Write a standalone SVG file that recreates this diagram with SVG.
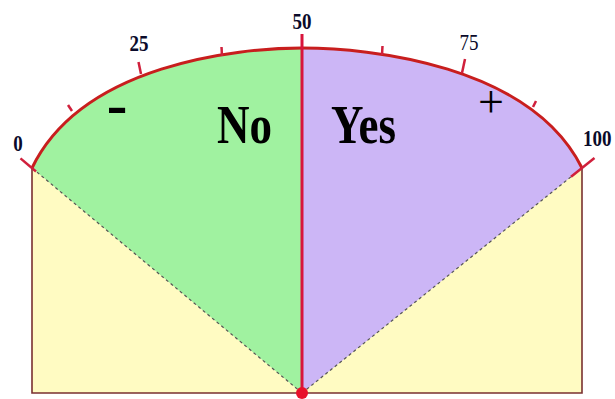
<svg xmlns="http://www.w3.org/2000/svg" width="615" height="399" viewBox="0 0 615 399">
<style>
.lbl{font-family:"Liberation Serif","Times New Roman",serif;font-weight:bold;fill:#0a0a2a}
.big{font-family:"Liberation Serif","Times New Roman",serif;font-weight:bold;fill:#000}
.thin{font-weight:normal}
.tick{stroke:#d0203c;stroke-width:2.5;fill:none;stroke-linecap:butt}
.dash{stroke:#555;stroke-width:1.2;stroke-dasharray:3 3;fill:none}
</style>
<rect width="615" height="399" fill="#ffffff"/>
<g id="frame">
<rect x="32" y="168" width="550" height="225" fill="#fffbc2"/>
<path d="M32,168 L32,393 L582,393 L582,168" fill="none" stroke="#7a3030" stroke-width="1.6"/>
</g>
<g id="no-sector">
<path d="M302,393 L32,168 C82,64.4 237,48 302,48 Z" fill="#a0f2a0"/>
</g>
<g id="yes-sector">
<path d="M302,393 L302,48 C369,48 530,64.4 582,168 Z" fill="#ccb6f6"/>
</g>
<g id="connectors">
<line class="dash" x1="302" y1="393" x2="32" y2="168"/>
<line class="dash" x1="302" y1="393" x2="582" y2="168"/>
<path d="M32,168 C82,64.4 237,48 302,48 C369,48 530,64.4 582,168" fill="none" stroke="#c81e1e" stroke-width="3"/>
<line class="tick" x1="36" y1="171.5" x2="20.5" y2="158.4"/>
<line class="tick" x1="72" y1="111" x2="68" y2="105"/>
<line class="tick" x1="141" y1="74" x2="138.5" y2="62"/>
<line class="tick" x1="222" y1="56" x2="221.5" y2="47"/>
<line class="tick" x1="382" y1="55" x2="382.5" y2="46"/>
<line class="tick" x1="462" y1="73" x2="465" y2="59"/>
<line class="tick" x1="533" y1="107" x2="536" y2="101"/>
<line class="tick" x1="571" y1="176.8" x2="594.5" y2="158"/>
<line x1="302" y1="34" x2="302" y2="393" stroke="#d8143c" stroke-width="3"/>
<circle cx="302" cy="393" r="6" fill="#e8102a"/>
</g>
<g id="labels">
<text class="lbl" font-size="19" text-anchor="middle" transform="translate(18,151) scale(1,1.2)">0</text>
<text class="lbl" font-size="19" text-anchor="middle" transform="translate(139,51) scale(1,1.2)">25</text>
<text class="lbl" font-size="19" text-anchor="middle" transform="translate(302,29) scale(1,1.2)">50</text>
<text class="lbl thin" font-size="19" text-anchor="middle" transform="translate(469,50) scale(1,1.2)">75</text>
<text class="lbl" font-size="19" transform="translate(583,146) scale(1,1.2)">100</text>
<text class="big" font-size="45" transform="translate(217,143) scale(1,1.2)">No</text>
<text class="big" font-size="45" transform="translate(331,143) scale(1,1.2)">Yes</text>
<text class="big" font-size="62" text-anchor="middle" transform="translate(117,125)">-</text>
<text class="big thin" font-size="46" text-anchor="middle" transform="translate(491,117)">+</text>
</g>
</svg>
